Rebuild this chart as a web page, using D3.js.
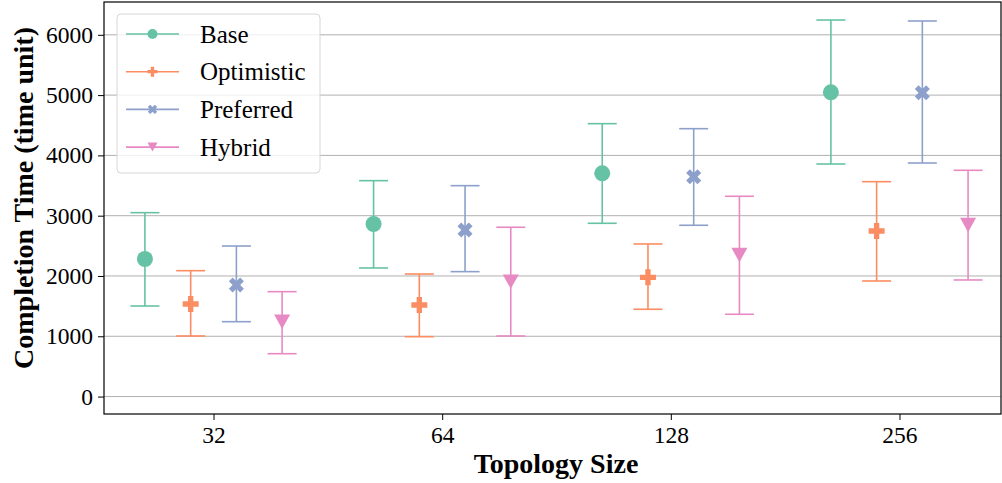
<!DOCTYPE html>
<html>
<head>
<meta charset="utf-8">
<script src="https://cdn.jsdelivr.net/npm/d3@7/dist/d3.min.js"></script>
<style>
  html, body { margin: 0; padding: 0; background: #fff; }
  svg { display: block; }
  text { font-family: "Liberation Serif", "Times New Roman", serif; fill: #000; }
</style>
</head>
<body>
<svg id="chart" width="1002" height="483"></svg>
<script>
// Topology sizes on the x axis
const sizes = ["32", "64", "128", "256"];
const seriesNames = ["Base", "Optimistic", "Preferred", "Hybrid"];
const seriesColors = ["#66c2a5", "#fc8d62", "#8da0cb", "#e78ac3"];
const seriesMarkers = ["circle", "plus", "x", "triangle"];

// Mean completion time per topology size
const baseMean = [2282, 2862, 3703, 5046];
const optimisticMean = [1536, 1519, 1978, 2746];
const preferredMean = [1851, 2763, 3647, 5040];
const hybridMean = [1242, 1906, 2348, 2846];

// Error bar bounds
const baseLow = [1502, 2133, 2874, 3857];
const baseHigh = [3050, 3581, 4526, 6245];
const optimisticLow = [1005, 993, 1448, 1917];
const optimisticHigh = [2088, 2033, 2531, 3564];
const preferredLow = [1242, 2072, 2841, 3874];
const preferredHigh = [2497, 3498, 4443, 6229];
const hybridLow = [711, 1005, 1365, 1934];
const hybridHigh = [1740, 2808, 3322, 3753];

const yTicks = [0, 1000, 2000, 3000, 4000, 5000, 6000];

const means = [baseMean, optimisticMean, preferredMean, hybridMean];
const lows = [baseLow, optimisticLow, preferredLow, hybridLow];
const highs = [baseHigh, optimisticHigh, preferredHigh, hybridHigh];

const series = seriesNames.map((name, j) => ({
  name, color: seriesColors[j], marker: seriesMarkers[j],
  points: sizes.map((s, i) => ({ i, mean: means[j][i], lo: lows[j][i], hi: highs[j][i] }))
}));

const svg = d3.select("#chart");
const plot = { left: 104, right: 1001, top: 2, bottom: 414 };

const x = d3.scaleLinear().domain([-0.479, 3.444]).range([plot.left, plot.right]);
const y = d3.scaleLinear().domain([-289, 6544]).range([plot.bottom, plot.top]);
const dodge = 0.2;

// Marker paths centered on (0,0)
function markerPath(kind, s) {
  if (kind === "circle") return d3.symbol(d3.symbolCircle, Math.PI * (s / 2) ** 2)();
  if (kind === "plus" || kind === "x") return d3.symbol(d3.symbolCross, (s / 3) ** 2 * 5)();
  const h = s * 0.9, w = s;
  return `M${-w / 2},${-h / 2}L${w / 2},${-h / 2}L0,${h / 2}Z`;
}

// Gridlines
svg.append("g")
  .selectAll("line")
  .data(yTicks)
  .join("line")
  .attr("x1", plot.left).attr("x2", plot.right)
  .attr("y1", d => y(d)).attr("y2", d => y(d))
  .attr("stroke", "#b0b0b0").attr("stroke-width", 1);

// Axes
const yAxis = d3.axisLeft(y).tickValues(yTicks).tickSize(6).tickPadding(5).tickFormat(d3.format("d"));
const yg = svg.append("g").attr("transform", `translate(${plot.left},0)`).call(yAxis);
yg.select(".domain").remove();
yg.selectAll("line").attr("stroke", "#000");
yg.selectAll("text").attr("font-size", 23.5).style("font-family", "Liberation Serif");

const xAxis = d3.axisBottom(x).tickValues(d3.range(sizes.length)).tickFormat(i => sizes[i]).tickSize(6).tickPadding(6);
const xg = svg.append("g").attr("transform", `translate(0,${plot.bottom})`).call(xAxis);
xg.select(".domain").remove();
xg.selectAll("line").attr("stroke", "#000");
xg.selectAll("text").attr("font-size", 23.5).style("font-family", "Liberation Serif");

// Series: error bars and markers
series.forEach((s, j) => {
  const g = svg.append("g");
  const off = (j - 1.5) * dodge;
  const capHalf = 14.5;
  s.points.forEach(p => {
    const cx = x(p.i + off);
    g.append("line").attr("x1", cx).attr("x2", cx).attr("y1", y(p.lo)).attr("y2", y(p.hi))
      .attr("stroke", s.color).attr("stroke-width", 1.6);
    [p.lo, p.hi].forEach(v => {
      g.append("line").attr("x1", cx - capHalf).attr("x2", cx + capHalf).attr("y1", y(v)).attr("y2", y(v))
        .attr("stroke", s.color).attr("stroke-width", 1.6);
    });
    g.append("path").attr("d", markerPath(s.marker, 16))
      .attr("transform", `translate(${cx},${y(p.mean)})${s.marker === "x" ? " rotate(45)" : ""}`)
      .attr("fill", s.color);
  });
});

// Frame
svg.append("rect")
  .attr("x", plot.left).attr("y", plot.top)
  .attr("width", plot.right - plot.left).attr("height", plot.bottom - plot.top)
  .attr("fill", "none").attr("stroke", "#000").attr("stroke-width", 1.2);

// Axis titles
svg.append("text")
  .attr("transform", `translate(33,198) rotate(-90)`)
  .attr("text-anchor", "middle")
  .attr("font-size", 28).attr("font-weight", "bold")
  .text("Completion Time (time unit)");

svg.append("text")
  .attr("x", 556).attr("y", 473)
  .attr("text-anchor", "middle")
  .attr("font-size", 28).attr("font-weight", "bold")
  .text("Topology Size");

// Legend
const legend = svg.append("g");
legend.append("rect")
  .attr("x", 117).attr("y", 14).attr("width", 203).attr("height", 159).attr("rx", 4)
  .attr("fill", "#fff").attr("fill-opacity", 0.8)
  .attr("stroke", "#d6d6d6").attr("stroke-width", 1);
series.forEach((s, j) => {
  const ry = 34 + j * 37.7;
  legend.append("line").attr("x1", 126).attr("x2", 179).attr("y1", ry).attr("y2", ry)
    .attr("stroke", s.color).attr("stroke-width", 1.6);
  legend.append("path").attr("d", markerPath(s.marker, 10))
    .attr("transform", `translate(152.5,${ry})${s.marker === "x" ? " rotate(45)" : ""}`)
    .attr("fill", s.color);
  legend.append("text").attr("x", 200).attr("y", ry).attr("dy", "0.35em")
    .attr("font-size", 25).text(s.name);
});
</script>
</body>
</html>
